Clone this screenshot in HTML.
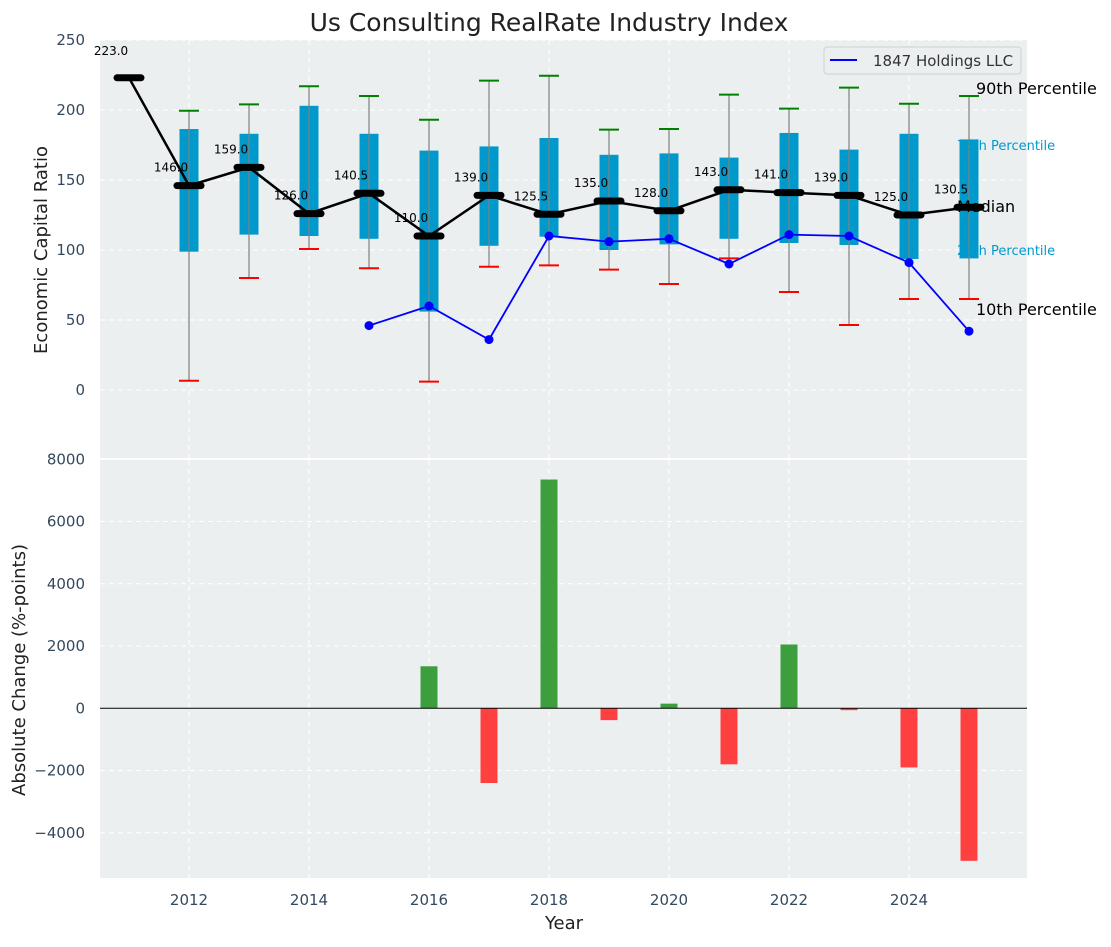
<!DOCTYPE html>
<html><head><meta charset="utf-8"><style>
body{margin:0;background:#fff;font-family:"Liberation Sans","DejaVu Sans",sans-serif}
svg text{font-family:"DejaVu Sans","Liberation Sans",sans-serif}
</style></head><body>
<svg id="c" width="1111" height="942" xmlns="http://www.w3.org/2000/svg"></svg>
<script>
const years=[2011,2012,2013,2014,2015,2016,2017,2018,2019,2020,2021,2022,2023,2024,2025];
const medians=[223,146,159,126,140.5,110,139,125.5,135,128,143,141,139,125,130.5];
const boxYears=[2012,2013,2014,2015,2016,2017,2018,2019,2020,2021,2022,2023,2024,2025];
const p90=[199.5,204,217,210,193,221,224.5,186,186.4,211,201,216,204.5,210];
const p75=[186.4,183,203,183,171,174,180,168,169,166,183.6,171.7,183,179];
const p25=[98.8,111,110,108,56,103,109.5,100,104,108,105,103.6,93.6,94];
const p10=[6.6,80,100.7,87,6,88,89,86,75.7,94,70,46.4,65,65];
const compYears=[2015,2016,2017,2018,2019,2020,2021,2022,2023,2024,2025];
const compVals=[46,60,36,110,106,108,90,111,110,91,42];
const changeYears=[2016,2017,2018,2019,2020,2021,2022,2023,2024,2025];
const changeVals=[1350,-2400,7350,-380,150,-1800,2050,-60,-1900,-4900];
const topTicks=[0,50,100,150,200,250];
const botTicks=[-4000,-2000,0,2000,4000,6000,8000];
const xTicks=[2012,2014,2016,2018,2020,2022,2024];

const svg=document.getElementById('c');
const NS='http://www.w3.org/2000/svg';
function mk(t,a,p){const e=document.createElementNS(NS,t);for(const k in a)e.setAttribute(k,a[k]);(p||svg).appendChild(e);return e;}
const L=100,R=1027;
const X=y=>129+(y-2011)*60;
const YT=v=>390-v*1.4;
const YB=v=>708.3-v*0.031125;

let e;
e=mk('rect',{x:L,y:40,width:R-L,height:418,fill:'#eceff0'});


e=mk('rect',{x:L,y:460,width:R-L,height:418,fill:'#eceff0'});



xTicks.forEach(t=>{
 [ [40,458],[460,878] ].forEach(r=>{
  e=mk('line',{x1:X(t),x2:X(t),y1:r[0],y2:r[1],stroke:'#fff','stroke-dasharray':'5,4','stroke-width':1});
  
  
 });
 e=mk('text',{x:X(t),y:905,'text-anchor':'middle','font-size':15,fill:'#34495e'});
 e.textContent=t;
 
 
});
topTicks.forEach(t=>{
 e=mk('line',{x1:L,x2:R,y1:YT(t),y2:YT(t),stroke:'#fff','stroke-dasharray':'5,4'});
 
 
 e=mk('text',{x:85,y:YT(t)+5,'text-anchor':'end','font-size':15,fill:'#34495e'});
 e.textContent=t;
 
 
});
botTicks.forEach(t=>{
 e=mk('line',{x1:L,x2:R,y1:YB(t),y2:YB(t),stroke:'#fff','stroke-dasharray':'5,4'});
 
 
 e=mk('text',{x:85,y:YB(t)+5,'text-anchor':'end','font-size':15,fill:'#34495e'});
 e.textContent=(t<0?'\u2212'+(-t):t);
 
 
});

boxYears.forEach((y,i)=>{
 const x=X(y);
 e=mk('rect',{x:x-9.5,y:YT(p75[i]),width:19,height:YT(p25[i])-YT(p75[i]),fill:'#0099cc'});
 
 
 e=mk('line',{x1:x,x2:x,y1:YT(p90[i]),y2:YT(p10[i]),stroke:'#808080','stroke-width':1.2});
 
 
 e=mk('line',{x1:x-10,x2:x+10,y1:YT(p90[i]),y2:YT(p90[i]),stroke:'green','stroke-width':2});
 
 
 e=mk('line',{x1:x-10,x2:x+10,y1:YT(p10[i]),y2:YT(p10[i]),stroke:'red','stroke-width':2});
 
 
});
e=mk('polyline',{points:years.map((y,i)=>X(y)+','+YT(medians[i])).join(' '),fill:'none',stroke:'#000','stroke-width':2.5});


years.forEach((y,i)=>{
 e=mk('line',{x1:X(y)-12,x2:X(y)+12,y1:YT(medians[i]),y2:YT(medians[i]),stroke:'#000','stroke-width':7,'stroke-linecap':'round'});
 
 
 e=mk('text',{x:X(y)-18,y:YT(medians[i])-(i==0?23:14),'text-anchor':'middle','font-size':12,fill:'#000'});
 e.textContent=medians[i].toFixed(1);
 
 
});
e=mk('polyline',{points:compYears.map((y,i)=>X(y)+','+YT(compVals[i])).join(' '),fill:'none',stroke:'#0000ff','stroke-width':1.8});


compYears.forEach((y,i)=>{
 e=mk('circle',{cx:X(y),cy:YT(compVals[i]),r:4.5,fill:'#0000ff'});
 
 
});
[['90th Percentile',976,94,16,'#000'],['75th Percentile',957,150,13,'#0099cc'],['Median',957,212,16,'#000'],['25th Percentile',957,255,13,'#0099cc'],['10th Percentile',976,315,16,'#000']].forEach(a=>{
 e=mk('text',{x:a[1],y:a[2],'font-size':a[3],fill:a[4]});
 e.textContent=a[0];
 
 
});
const lg=mk('g',{});


mk('rect',{x:824,y:47,width:197,height:27,rx:3,fill:'#eceff0',stroke:'#d0d0d0'},lg);
mk('line',{x1:830,x2:857,y1:60,y2:60,stroke:'#0000ff','stroke-width':2},lg);
e=mk('text',{x:873,y:66,'font-size':15,fill:'#333'},lg);e.textContent='1847 Holdings LLC';

changeYears.forEach((y,i)=>{
 const v=changeVals[i];
 e=mk('rect',{x:X(y)-8.5,y:Math.min(YB(v),YB(0)),width:17,height:Math.abs(YB(v)-YB(0)),fill:v>=0?'#3d9e3d':'#ff4040'});
 
 
});
e=mk('line',{x1:L,x2:R,y1:YB(0),y2:YB(0),stroke:'#000','stroke-width':1});



e=mk('text',{x:549,y:31,'text-anchor':'middle','font-size':25,fill:'#222'});e.textContent='Us Consulting RealRate Industry Index';


e=mk('text',{x:564,y:929,'text-anchor':'middle','font-size':18,fill:'#222'});e.textContent='Year';


e=mk('text',{x:0,y:0,'text-anchor':'middle','font-size':18,fill:'#222',transform:'translate(47,250) rotate(-90)'});e.textContent='Economic Capital Ratio';


e=mk('text',{x:0,y:0,'text-anchor':'middle','font-size':18,fill:'#222',transform:'translate(25,670) rotate(-90)'});e.textContent='Absolute Change (%-points)';


</script>
</body></html>
